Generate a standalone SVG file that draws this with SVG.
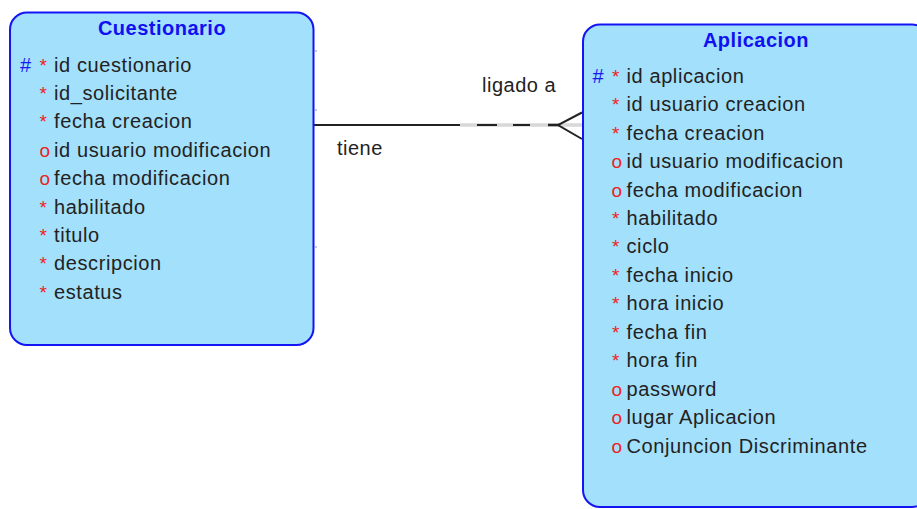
<svg xmlns="http://www.w3.org/2000/svg" width="917" height="509" viewBox="0 0 917 509">
  <style>
    .box { fill: #a3e0fc; stroke: #1414f5; stroke-width: 2; }
    .title { font-family: "Liberation Sans", Arial, sans-serif; font-size: 20px; font-weight: bold; fill: #1010f0; text-anchor: middle; letter-spacing: 0.5px; }
    .attr { font-family: "Liberation Sans", Arial, sans-serif; font-size: 20px; fill: #222222; letter-spacing: 0.6px; }
    .pk { font-family: "Liberation Sans", Arial, sans-serif; font-size: 20px; fill: #1a1af0; }
    .req { font-family: "Liberation Sans", Arial, sans-serif; font-size: 19px; fill: #ee2222; }
    .opt { font-family: "Liberation Sans", Arial, sans-serif; font-size: 19px; fill: #ee2222; }
    .lbl { font-family: "Liberation Sans", Arial, sans-serif; font-size: 20px; fill: #222222; letter-spacing: 0.5px; }
    .tick { fill: #9a9a9a; }
  </style>

  <!-- relationship: Cuestionario (1) to Aplicacion (many) -->
  <g id="connectors">
    <line x1="314" y1="125" x2="460" y2="125" stroke="#222" stroke-width="2"/>
    <line x1="460" y1="125" x2="583" y2="125" stroke="#c4c4c4" stroke-width="3"/>
    <line x1="460" y1="125" x2="583" y2="125" stroke="#ececec" stroke-width="1"/>
    <line x1="477" y1="125" x2="497" y2="125" stroke="#222" stroke-width="2"/>
    <line x1="513" y1="125" x2="530" y2="125" stroke="#222" stroke-width="2"/>
    <line x1="548" y1="125" x2="559" y2="125" stroke="#222" stroke-width="2.5"/>
    <polyline points="582,112.5 558,125 582,139" fill="none" stroke="#222" stroke-width="2"/>
    <text class="lbl" x="482" y="92">ligado a</text>
    <text class="lbl" x="337" y="155">tiene</text>
  </g>

  <g id="cuestionario">
    <rect class="box" x="10" y="12.5" width="303.5" height="332.5" rx="17" ry="17"/>
    <rect class="tick" x="315.5" y="50" width="1" height="2"/>
    <rect class="tick" x="315.5" y="109" width="1" height="2"/>
    <rect class="tick" x="315.5" y="246" width="1" height="2"/>
    <text class="title" x="162" y="34.5">Cuestionario</text>
    <text class="pk" x="20" y="71.5">#</text>
    <text class="req" x="39.5" y="71.5">*</text><text class="attr" x="54" y="71.5">id cuestionario</text>
    <text class="req" x="39.5" y="99.9">*</text><text class="attr" x="54" y="99.9">id_solicitante</text>
    <text class="req" x="39.5" y="128.3">*</text><text class="attr" x="54" y="128.3">fecha creacion</text>
    <text class="opt" x="39.5" y="156.7">o</text><text class="attr" x="54" y="156.7">id usuario modificacion</text>
    <text class="opt" x="39.5" y="185.1">o</text><text class="attr" x="54" y="185.1">fecha modificacion</text>
    <text class="req" x="39.5" y="213.5">*</text><text class="attr" x="54" y="213.5">habilitado</text>
    <text class="req" x="39.5" y="241.9">*</text><text class="attr" x="54" y="241.9">titulo</text>
    <text class="req" x="39.5" y="270.3">*</text><text class="attr" x="54" y="270.3">descripcion</text>
    <text class="req" x="39.5" y="298.7">*</text><text class="attr" x="54" y="298.7">estatus</text>
  </g>

  <g id="aplicacion">
    <rect class="box" x="583" y="24.5" width="346" height="482.5" rx="17" ry="17"/>
    <text class="title" x="756" y="46.5">Aplicacion</text>
    <text class="pk" x="592.5" y="82.7">#</text>
    <text class="req" x="612" y="82.7">*</text><text class="attr" x="626.5" y="82.7">id aplicacion</text>
    <text class="req" x="612" y="111.15">*</text><text class="attr" x="626.5" y="111.15">id usuario creacion</text>
    <text class="req" x="612" y="139.6">*</text><text class="attr" x="626.5" y="139.6">fecha creacion</text>
    <text class="opt" x="611.5" y="168.05">o</text><text class="attr" x="626.5" y="168.05">id usuario modificacion</text>
    <text class="opt" x="611.5" y="196.5">o</text><text class="attr" x="626.5" y="196.5">fecha modificacion</text>
    <text class="req" x="612" y="224.95">*</text><text class="attr" x="626.5" y="224.95">habilitado</text>
    <text class="req" x="612" y="253.4">*</text><text class="attr" x="626.5" y="253.4">ciclo</text>
    <text class="req" x="612" y="281.85">*</text><text class="attr" x="626.5" y="281.85">fecha inicio</text>
    <text class="req" x="612" y="310.3">*</text><text class="attr" x="626.5" y="310.3">hora inicio</text>
    <text class="req" x="612" y="338.75">*</text><text class="attr" x="626.5" y="338.75">fecha fin</text>
    <text class="req" x="612" y="367.2">*</text><text class="attr" x="626.5" y="367.2">hora fin</text>
    <text class="opt" x="611.5" y="395.65">o</text><text class="attr" x="626.5" y="395.65">password</text>
    <text class="opt" x="611.5" y="424.1">o</text><text class="attr" x="626.5" y="424.1">lugar Aplicacion</text>
    <text class="opt" x="611.5" y="452.55">o</text><text class="attr" x="626.5" y="452.55">Conjuncion Discriminante</text>
  </g>
</svg>
